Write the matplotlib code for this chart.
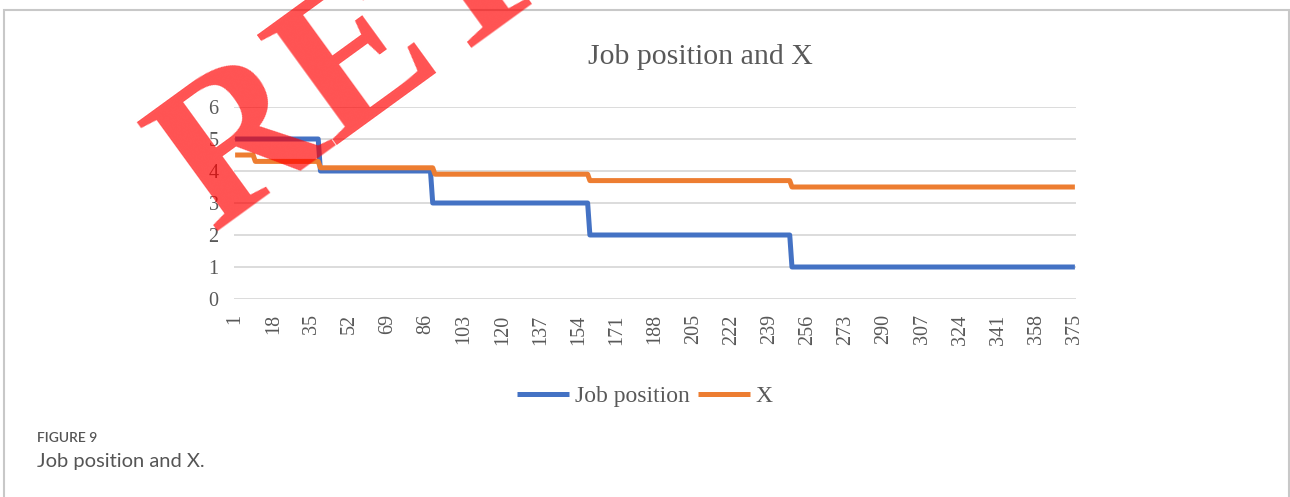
import numpy as np
from matplotlib import pyplot as plt
from matplotlib.patches import Rectangle

# Step series: (value, number of samples at that value)
job_levels = [5, 4, 3, 2, 1]
job_runs = [38, 50, 70, 90, 127]
x_levels = [4.5, 4.3, 4.1, 3.9, 3.7, 3.5]
x_runs = [9, 29, 51, 69, 90, 127]

job_position = np.repeat(job_levels, job_runs)
x_values = np.repeat(x_levels, x_runs)
samples = np.arange(1, len(job_position) + 1)
tick_labels = list(range(1, 376, 17))

grey_text = '#595959'
serif = ['Liberation Serif', 'DejaVu Serif']
sans = ['Lato', 'DejaVu Sans']

fig = plt.figure(figsize=(12.9, 4.97), dpi=100)

# outer chart border
fig.patches.append(Rectangle((4 / 1290, -0.1), 1285 / 1290, 1.1 - 10 / 497,
                             transform=fig.transFigure, fill=False,
                             edgecolor='#C8C8C8', linewidth=1.5))

ax = fig.add_axes([234 / 1290, 1 - 299 / 497, 842 / 1290, 192 / 497])
ax.plot(samples, job_position, color='#4472C4', linewidth=3.6,
        label='Job position', solid_capstyle='butt')
ax.plot(samples, x_values, color='#ED7D31', linewidth=3.6,
        label='X', solid_capstyle='butt')

ax.set_xlim(0.5, len(samples) + 0.5)
ax.set_ylim(0, 6)
ax.set_yticks(range(0, 7))
ax.set_xticks(tick_labels)
ax.set_xticklabels([str(t) for t in tick_labels], rotation=90, va='top')
ax.grid(axis='y', color='#D9D9D9', linewidth=1.3)
ax.set_axisbelow(True)
for s in ax.spines.values():
    s.set_visible(False)
ax.tick_params(axis='both', length=0, labelsize=14.5, labelcolor=grey_text)
ax.tick_params(axis='x', pad=11)
ax.tick_params(axis='y', pad=11)
for lab in ax.get_xticklabels() + ax.get_yticklabels():
    lab.set_family(serif)

fig.text(700 / 1290, 1 - 57 / 497, 'Job position and X', ha='center',
         va='center', fontsize=21.5, color=grey_text, family=serif)

fig.legend(loc='center', bbox_to_anchor=(645 / 1290, 1 - 396 / 497), ncol=2,
           frameon=False, prop={'family': serif, 'size': 17},
           labelcolor=grey_text, handlelength=2.2, handletextpad=0.25,
           columnspacing=0.35)

# caption
fig.text(37 / 1290, 1 - 438 / 497, 'FIGURE 9', ha='left', va='center',
         fontsize=10, color='#555555', family=sans, fontweight='semibold')
fig.text(37 / 1290, 1 - 461 / 497, 'Job position and X.', ha='left',
         va='center', fontsize=14.5, color='#555555', family=sans)

# retraction watermark
fig.text(213 / 1290, 1 - 232 / 497, 'RETRACTED', ha='left', va='baseline',
         rotation=36, rotation_mode='anchor', fontsize=149, color='#FF0000',
         alpha=0.68, family=serif, fontweight='bold', zorder=10)

fig.savefig('out.png', dpi=100)
